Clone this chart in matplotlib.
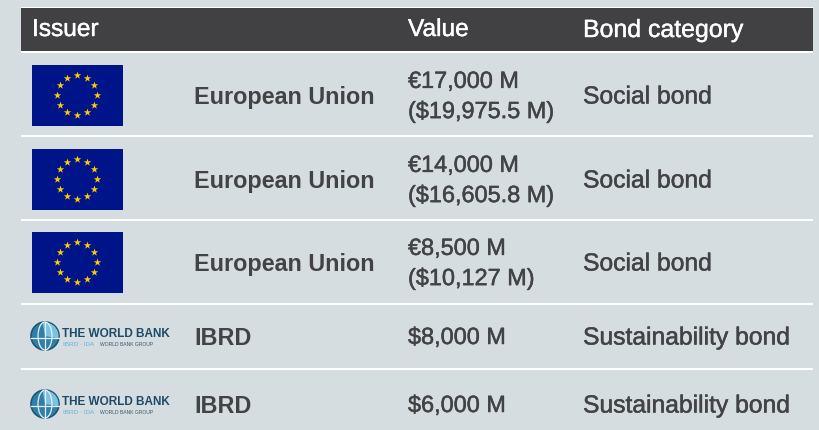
#!/bin/python3
import numpy as np
from matplotlib import pyplot as plt
from matplotlib.patches import Rectangle, Circle, Ellipse, Wedge
from matplotlib import patheffects as pe

plt.rcParams['font.family'] = ['Liberation Sans', 'DejaVu Sans']

headers = ["Issuer", "Value", "Bond category"]
issuers = ["European Union", "European Union", "European Union", "IBRD", "IBRD"]
values = ["€17,000 M\n($19,975.5 M)", "€14,000 M\n($16,605.8 M)", "€8,500 M\n($10,127 M)",
          "$8,000 M", "$6,000 M"]
categories = ["Social bond", "Social bond", "Social bond", "Sustainability bond", "Sustainability bond"]
logos = ["eu", "eu", "eu", "wb", "wb"]

row_mid = [96, 180, 263, 337, 405]
row_lines = [137, 221, 305, 370]
BG = '#d6dde0'
DARK = '#414042'
TXT = '#434345'
# un peu de graisse, le texte de reference est plus "medium"
medium = [pe.withStroke(linewidth=0.35, foreground=TXT)]
medium_w = [pe.withStroke(linewidth=0.3, foreground='white')]


def draw_eu(ax, cy):
    ax.add_patch(Rectangle((32, cy-30.5), 91, 61, fc='#001489', ec='none', zorder=2))
    ang = np.radians(np.arange(0, 360, 30))
    ax.scatter(77 + 20*np.cos(ang), cy + 20*np.sin(ang), marker='*', s=32,
               c='#ffcc00', linewidths=0, zorder=3)


def draw_wb(ax, cy):
    ax.add_patch(Circle((45, cy), 14, fc='#2f7fa8', ec='#1f5675', lw=1.2, zorder=2))
    ax.add_patch(Wedge((45, cy), 13.5, -100, 10, fc='#7cc3e0', ec='none', zorder=2))
    ax.add_patch(Ellipse((45, cy), 14, 28, fc='none', ec='#e3eff5', lw=0.9, zorder=3))
    ax.plot([31, 59], [cy+2, cy+2], color='#e3eff5', lw=0.9, zorder=3)
    ax.plot([45, 45], [cy-14, cy+14], color='#e3eff5', lw=0.9, zorder=3)
    ax.text(62, cy-3, "THE WORLD BANK", fontsize=8.45, fontweight='bold', color='#1d4a68',
            va='center', ha='left', zorder=3)
    ax.text(63, cy+8, "IBRD · IDA", fontsize=4.6, color='#5fb0d8', va='center', ha='left')
    ax.text(100, cy+8, "WORLD BANK GROUP", fontsize=3.6, color='#39576a', va='center', ha='left')


fig = plt.figure(figsize=(8.2, 4.31), dpi=100, facecolor=BG)
ax = fig.add_axes([0, 0, 1, 1])
ax.set_xlim(0, 820)
ax.set_ylim(431, 0)
ax.axis('off')

# en-tete
ax.add_patch(Rectangle((21, 7.5), 792, 46.5, fc='white', ec='none'))
ax.add_patch(Rectangle((21, 9), 792, 43, fc=DARK, ec='none'))
for x, h, fs in zip([32, 408, 583], headers, [17.6, 17.6, 17.9]):
    ax.text(x, 31, h, color='white', fontsize=fs, va='center', ha='left', path_effects=medium_w)

for y in row_lines:
    ax.plot([21, 813], [y, y], color='white', lw=1.5, solid_capstyle='butt')

for y, iss, val, cat, logo in zip(row_mid, issuers, values, categories, logos):
    if logo == "eu":
        draw_eu(ax, y)
    else:
        draw_wb(ax, y)
    ax.text(194, y+1.5, iss, color=TXT, fontsize=16.85, fontweight='bold', va='center', ha='left')
    ax.text(408, y+1.5, val, color=TXT, fontsize=16.9, va='center', ha='left', linespacing=1.4,
            path_effects=medium)
    ax.text(583, y+1.5, cat, color=TXT, fontsize=17.75, va='center', ha='left', path_effects=medium)

fig.savefig("out.png", dpi=100, facecolor=BG)
